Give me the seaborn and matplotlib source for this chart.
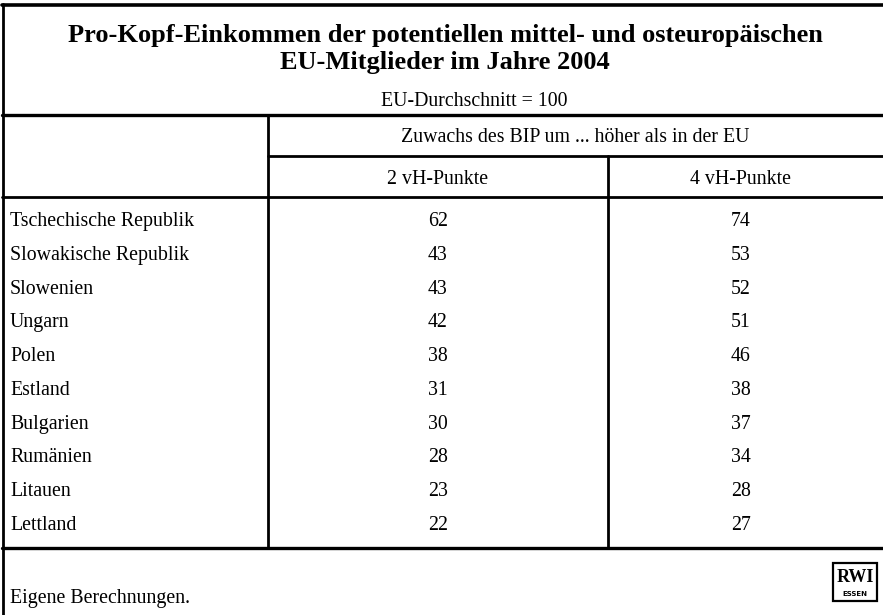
import pandas as pd
import seaborn as sns
import matplotlib
matplotlib.use('Agg')
import matplotlib.pyplot as plt
from matplotlib.colors import ListedColormap
from matplotlib.patches import Rectangle

TITEL = 'Pro-Kopf-Einkommen der potentiellen mittel- und osteuropäischen\nEU-Mitglieder im Jahre 2004'
UNTERTITEL = 'EU-Durchschnitt = 100'
KOPF = 'Zuwachs des BIP um ... höher als in der EU'
SPALTEN = ['2 vH-Punkte', '4 vH-Punkte']
LAENDER = ['Tschechische Republik', 'Slowakische Republik', 'Slowenien', 'Ungarn', 'Polen',
           'Estland', 'Bulgarien', 'Rumänien', 'Litauen', 'Lettland']
WERTE_2 = [62, 43, 43, 42, 38, 31, 30, 28, 23, 22]
WERTE_4 = [74, 53, 52, 51, 46, 38, 37, 34, 28, 27]
QUELLE = 'Eigene Berechnungen.'

W, H = 883, 615
SERIF = ['Liberation Serif', 'DejaVu Serif']
FS = 14.3

sns.set_theme(style='white')
plt.rcParams['font.family'] = SERIF
plt.rcParams['text.color'] = 'black'

fig = plt.figure(figsize=(W / 100, H / 100), dpi=100)
fig.patch.set_facecolor('white')

# Zahlenfelder als Heatmap (weiss), nur die Annotationen sind sichtbar
df = pd.DataFrame({SPALTEN[0]: WERTE_2, SPALTEN[1]: WERTE_4}, index=LAENDER)
x0, x1 = 286.5, 892.5
y0, y1 = 204.5, 542.5
ax_hm = fig.add_axes([x0 / W, 1 - y1 / H, (x1 - x0) / W, (y1 - y0) / H])
sns.heatmap(df, annot=True, fmt='d', cmap=ListedColormap(['white']), cbar=False,
            linewidths=0, ax=ax_hm,
            annot_kws={'color': 'black', 'fontsize': FS, 'family': SERIF})
ax_hm.set_xticks([])
ax_hm.set_yticks([])
ax_hm.set_xlabel('')
ax_hm.set_ylabel('')

# Rahmen, Linien und Texte in Pixelkoordinaten
ax = fig.add_axes([0, 0, 1, 1])
ax.set_xlim(0, W)
ax.set_ylim(H, 0)
ax.axis('off')

lw = 2.0
ax.plot([2, W], [4.5, 4.5], color='black', lw=2.6)
ax.plot([2.5, 2.5], [4, H], color='black', lw=lw)
ax.plot([2, W], [115, 115], color='black', lw=2.4)
ax.plot([268, W], [156, 156], color='black', lw=lw)
ax.plot([2, W], [197, 197], color='black', lw=lw)
ax.plot([2, W], [548, 548], color='black', lw=2.4)
ax.plot([268, 268], [115, 548], color='black', lw=lw)
ax.plot([608, 608], [156, 548], color='black', lw=lw)

ax.text(445, 49, TITEL, ha='center', va='center', fontsize=19, fontweight='bold',
        linespacing=1.25)
ax.text(474, 102, UNTERTITEL, ha='center', va='center', fontsize=FS)
ax.text(575.5, 138, KOPF, ha='center', va='center', fontsize=FS)
ax.text(438, 179, SPALTEN[0], ha='center', va='center', fontsize=FS)
ax.text(741, 179, SPALTEN[1], ha='center', va='center', fontsize=FS)

for i, land in enumerate(LAENDER):
    ax.text(10, y0 + (i + 0.5) * (y1 - y0) / len(LAENDER), land,
            ha='left', va='center', fontsize=FS)

ax.text(10, 599, QUELLE, ha='left', va='center', fontsize=FS)

# RWI-Logo
ax.add_patch(Rectangle((833, 563), 44, 38, fill=False, edgecolor='black', lw=1.6))
ax.text(855, 577, 'RWI', ha='center', va='center', fontsize=13, fontweight='bold')
ax.text(855, 594, 'ESSEN', ha='center', va='center', fontsize=5,
        fontweight='bold', family='DejaVu Sans')

fig.savefig('out.png', dpi=100, facecolor='white')
